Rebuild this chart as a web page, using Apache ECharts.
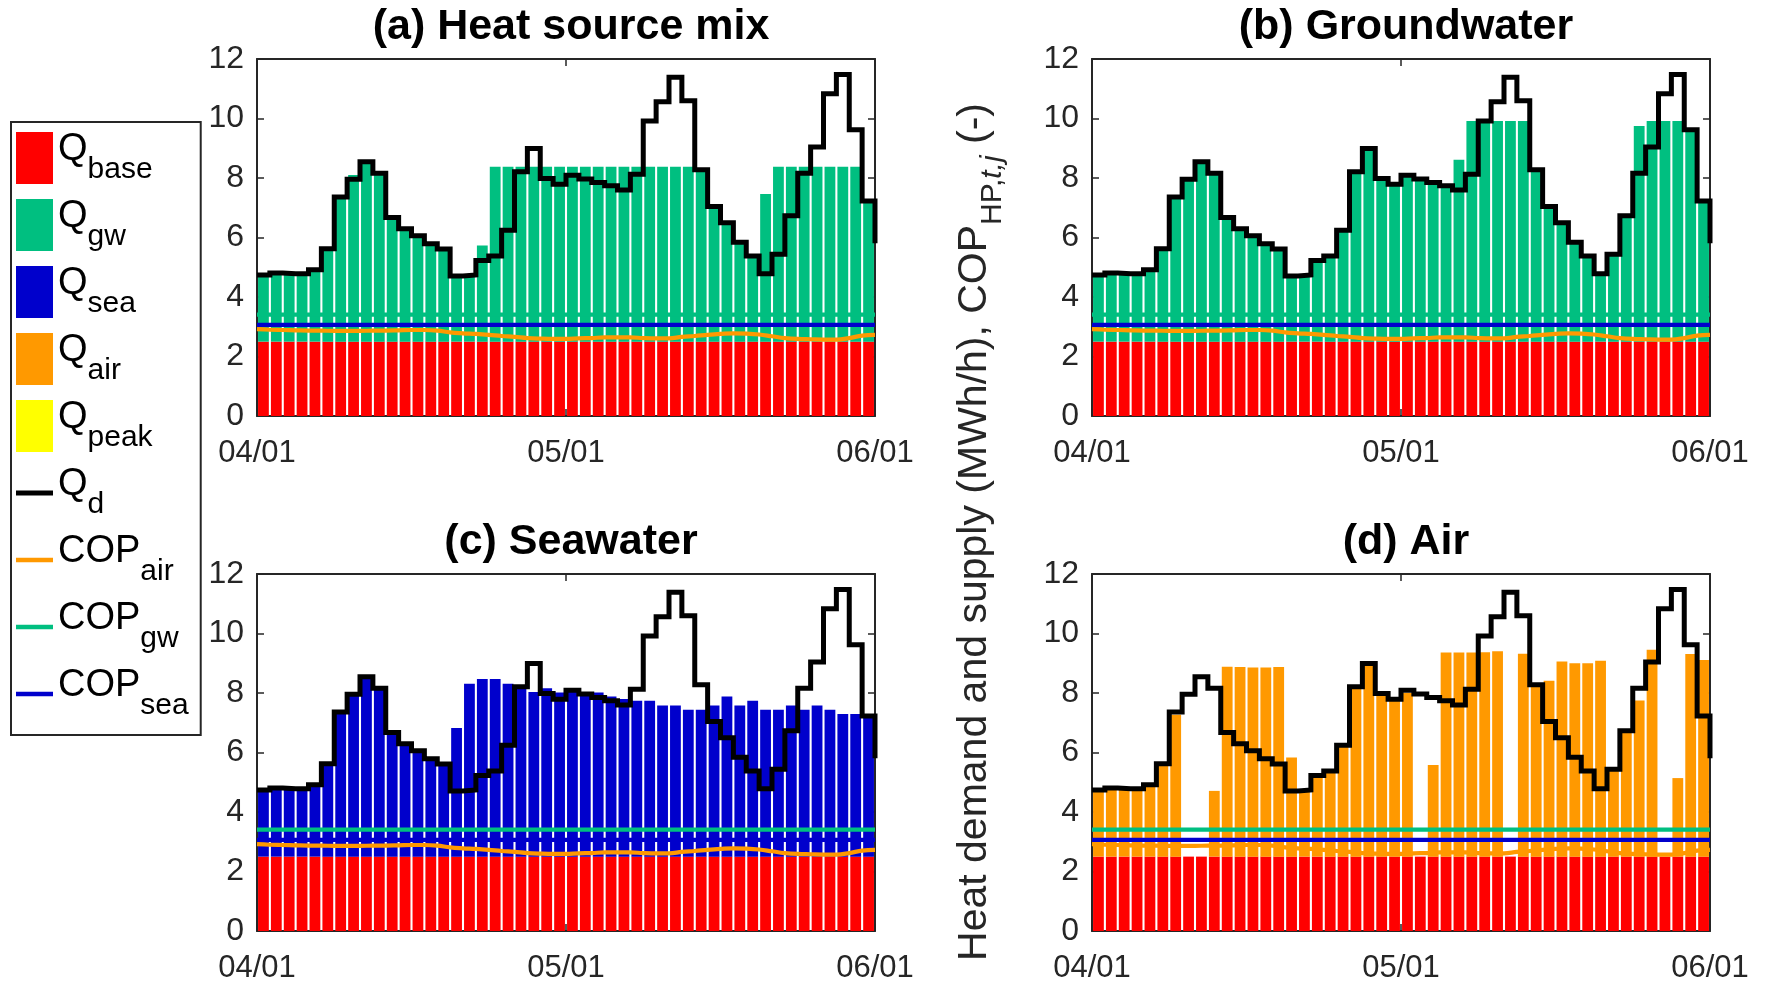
<!DOCTYPE html>
<html>
<head>
<meta charset="utf-8">
<script src="https://cdn.jsdelivr.net/npm/echarts@6/dist/echarts.min.js"></script>
<style>
  html, body { margin: 0; padding: 0; background: #fff; }
  #chart { width: 1771px; height: 988px; }
</style>
</head>
<body>
<div id="chart"></div>
<script>
// Time axis: 48 supply steps between 04/01 and 06/01
const dateTicks = ['04/01', '05/01', '06/01'];
const dateTickStep = 24;

// Heat demand Q_d (MWh/h), stairs: value i holds from step i to step i+1
const demand = [4.74, 4.81, 4.78, 4.78, 4.92, 5.62, 7.36, 7.96, 8.55, 8.16,
  6.67, 6.29, 6.06, 5.79, 5.61, 4.71, 4.74, 5.23, 5.38, 6.24,
  8.21, 8.99, 7.98, 7.79, 8.09, 7.97, 7.85, 7.74, 7.60, 8.13,
  9.92, 10.56, 11.39, 10.60, 8.28, 7.04, 6.50, 5.84, 5.38, 4.78,
  5.44, 6.73, 8.16, 9.04, 10.83, 11.48, 9.62, 7.23, 5.81];

// Base load supply Q_base (MWh/h)
const baseLoad = [2.5, 2.5, 2.5, 2.5, 2.5, 2.5, 2.5, 2.5, 2.5, 2.5, 2.5, 2.5,
  2.5, 2.5, 2.5, 2.5, 2.5, 2.5, 2.5, 2.5, 2.5, 2.5, 2.5, 2.5,
  2.5, 2.5, 2.5, 2.5, 2.5, 2.5, 2.5, 2.5, 2.5, 2.5, 2.5, 2.5,
  2.5, 2.5, 2.5, 2.5, 2.5, 2.5, 2.5, 2.5, 2.5, 2.5, 2.5, 2.5];

// (a) heat source mix: groundwater heat pump supply
const mixGw = [2.24, 2.31, 2.28, 2.28, 2.42, 3.12, 4.86, 5.60, 6.05, 5.66,
  4.17, 3.79, 3.56, 3.29, 3.11, 2.21, 2.24, 3.23, 5.88, 5.88,
  5.88, 5.88, 5.88, 5.88, 5.88, 5.88, 5.88, 5.88, 5.88, 5.88,
  5.88, 5.88, 5.88, 5.88, 5.78, 4.54, 4.00, 3.34, 2.88, 4.96,
  5.88, 5.88, 5.88, 5.88, 5.88, 5.88, 5.88, 4.73];

// (b) groundwater only
const onlyGw = [2.24, 2.31, 2.28, 2.28, 2.42, 3.12, 4.86, 5.46, 6.05, 5.66,
  4.17, 3.79, 3.56, 3.29, 3.11, 2.21, 2.24, 2.73, 2.88, 3.74,
  5.71, 6.49, 5.48, 5.29, 5.59, 5.47, 5.35, 5.24, 6.11, 7.42,
  7.42, 7.42, 7.42, 7.42, 5.78, 4.54, 4.00, 3.34, 2.88, 2.28,
  2.94, 4.23, 7.25, 7.42, 7.42, 7.42, 7.12, 4.73];

// (c) seawater only
const onlySea = [2.24, 2.31, 2.28, 2.28, 2.42, 3.12, 4.86, 5.46, 6.05, 5.66,
  4.17, 3.79, 3.56, 3.29, 3.11, 4.32, 5.81, 5.97, 5.97, 5.81,
  5.65, 5.53, 5.66, 5.52, 5.53, 5.50, 5.52, 5.38, 5.30, 5.24,
  5.24, 5.08, 5.08, 4.94, 4.94, 5.08, 5.38, 5.08, 5.24, 4.94,
  4.94, 5.08, 4.94, 5.08, 4.94, 4.79, 4.79, 4.70];

// (d) air only
const onlyAir = [2.24, 2.31, 2.28, 2.28, 2.42, 3.12, 4.77, 0, 0, 2.21,
  6.38, 6.37, 6.36, 6.36, 6.37, 3.33, 2.24, 2.73, 2.88, 3.74,
  5.71, 6.45, 5.48, 5.29, 5.50, 0, 3.08, 6.86, 6.86, 6.86,
  6.87, 6.90, 0, 6.82, 5.78, 5.91, 6.56, 6.50, 6.50, 6.58,
  2.94, 4.23, 5.25, 6.95, 0, 2.64, 6.81, 6.61];

// Peak boiler supply Q_peak
const peakLoad = [0, 0, 0, 0, 0, 0, 0, 0, 0, 0, 0, 0, 0, 0, 0, 0, 0, 0, 0, 0, 0, 0, 0, 0,
  0, 0, 0, 0, 0, 0, 0, 0, 0, 0, 0, 0, 0, 0, 0, 0, 0, 0, 0, 0, 0, 0, 0, 0];

// Heat pump COP per source (-)
const copAir = [2.92, 2.90, 2.89, 2.88, 2.87, 2.87, 2.86, 2.86, 2.86, 2.87,
  2.87, 2.88, 2.89, 2.89, 2.87, 2.81, 2.78, 2.76, 2.73, 2.69,
  2.66, 2.62, 2.60, 2.59, 2.59, 2.61, 2.62, 2.64, 2.64, 2.64,
  2.62, 2.61, 2.61, 2.66, 2.69, 2.73, 2.76, 2.78, 2.77, 2.74,
  2.68, 2.62, 2.59, 2.58, 2.57, 2.57, 2.62, 2.70, 2.73];
const copGw = [3.41, 3.41, 3.41, 3.41, 3.41, 3.41, 3.41, 3.41, 3.41, 3.41,
  3.41, 3.41, 3.41, 3.41, 3.41, 3.41, 3.41, 3.41, 3.41, 3.41,
  3.41, 3.41, 3.41, 3.41, 3.41, 3.41, 3.41, 3.41, 3.41, 3.41,
  3.41, 3.41, 3.41, 3.41, 3.41, 3.41, 3.41, 3.41, 3.41, 3.41,
  3.41, 3.41, 3.41, 3.41, 3.41, 3.41, 3.41, 3.41, 3.41];
const copSea = [3.06, 3.06, 3.06, 3.06, 3.06, 3.06, 3.06, 3.06, 3.06, 3.06,
  3.06, 3.06, 3.06, 3.06, 3.06, 3.06, 3.06, 3.06, 3.06, 3.06,
  3.06, 3.06, 3.06, 3.06, 3.06, 3.06, 3.06, 3.06, 3.06, 3.06,
  3.06, 3.06, 3.06, 3.06, 3.06, 3.06, 3.06, 3.06, 3.06, 3.06,
  3.06, 3.06, 3.06, 3.06, 3.06, 3.06, 3.06, 3.06, 3.06];

const yTicks = { min: 0, max: 12, interval: 2 };

const COLORS = {
  Q_base: '#ff0000', Q_gw: '#00bf80', Q_sea: '#0000cc', Q_air: '#ff9900',
  Q_peak: '#ffff00', Q_d: '#000000',
  COP_air: '#ff9900', COP_gw: '#00bf80', COP_sea: '#0000cc'
};
const AXIS = '#262626';
const FONT = 'Liberation Sans, Arial, Helvetica, sans-serif';

const panels = [
  { title: '(a) Heat source mix', source: 'Q_gw', values: mixGw, grid: { left: 257, top: 59 } },
  { title: '(b) Groundwater', source: 'Q_gw', values: onlyGw, grid: { left: 1092, top: 59 } },
  { title: '(c) Seawater', source: 'Q_sea', values: onlySea, grid: { left: 257, top: 574 } },
  { title: '(d) Air', source: 'Q_air', values: onlyAir, grid: { left: 1092, top: 574 } }
];
const PLOT_W = 618, PLOT_H = 357;

// supply steps as categories for the stacked bars; line points sit on step edges
const steps = baseLoad.map((v, i) => 'step' + i);
const edgePoints = arr => arr.map((v, i) => [i, v]);

const grids = [], xAxes = [], yAxes = [], series = [], titles = [];

panels.forEach((p, k) => {
  grids.push({ left: p.grid.left, top: p.grid.top, width: PLOT_W, height: PLOT_H,
    containLabel: false, outerBoundsMode: 'none' });
  titles.push({
    text: p.title, left: p.grid.left + PLOT_W / 2, top: p.grid.top - 58, textAlign: 'center',
    textStyle: { fontFamily: FONT, fontSize: 43, fontWeight: 'bold', color: '#000' }
  });
  const n = steps.length;
  const tickLine = { show: true, inside: true, length: 7, lineStyle: { color: AXIS, width: 1.5 } };
  const axisLine = { show: true, onZero: false, lineStyle: { color: AXIS, width: 2 } };
  // 3k: date axis with labels, 3k+1: mirrored top axis, 3k+2: step categories for the bars
  xAxes.push({
    gridIndex: k, type: 'value', position: 'bottom', min: 0, max: n, interval: dateTickStep,
    axisLine, axisTick: tickLine, splitLine: { show: false },
    axisLabel: { margin: 22, fontFamily: FONT, fontSize: 31, color: AXIS,
      formatter: v => dateTicks[Math.round(v / dateTickStep)] }
  });
  xAxes.push({
    gridIndex: k, type: 'value', position: 'top', min: 0, max: n, interval: dateTickStep,
    axisLine, axisTick: tickLine, splitLine: { show: false }, axisLabel: { show: false }
  });
  xAxes.push({
    gridIndex: k, type: 'category', data: steps, boundaryGap: true, show: false
  });
  yAxes.push({
    gridIndex: k, type: 'value', position: 'left', min: yTicks.min, max: yTicks.max, interval: yTicks.interval,
    axisLine, axisTick: tickLine, splitLine: { show: false },
    axisLabel: { margin: 13, fontFamily: FONT, fontSize: 32, color: AXIS }
  });
  yAxes.push({
    gridIndex: k, type: 'value', position: 'right', min: yTicks.min, max: yTicks.max, interval: yTicks.interval,
    axisLine, axisTick: tickLine, splitLine: { show: false }, axisLabel: { show: false }
  });

  const barCommon = { type: 'bar', stack: 'supply' + k, barWidth: 10.8, z: 2,
    xAxisIndex: 3 * k + 2, yAxisIndex: 2 * k };
  series.push(Object.assign({}, barCommon, { name: 'Q_base', data: baseLoad,
    itemStyle: { color: COLORS.Q_base } }));
  series.push(Object.assign({}, barCommon, { name: p.source, data: p.values,
    itemStyle: { color: COLORS[p.source] } }));
  series.push(Object.assign({}, barCommon, { name: 'Q_peak', data: peakLoad,
    itemStyle: { color: COLORS.Q_peak } }));

  const lineCommon = { type: 'line', symbol: 'none', z: 3, xAxisIndex: 3 * k, yAxisIndex: 2 * k };
  series.push(Object.assign({}, lineCommon, { name: 'COP_air', data: edgePoints(copAir), smooth: 0.4,
    lineStyle: { color: COLORS.COP_air, width: 4.2 }, itemStyle: { color: COLORS.COP_air } }));
  series.push(Object.assign({}, lineCommon, { name: 'COP_gw', data: edgePoints(copGw),
    lineStyle: { color: COLORS.COP_gw, width: 4.2 }, itemStyle: { color: COLORS.COP_gw } }));
  series.push(Object.assign({}, lineCommon, { name: 'COP_sea', data: edgePoints(copSea),
    lineStyle: { color: COLORS.COP_sea, width: 4.2 }, itemStyle: { color: COLORS.COP_sea } }));
  series.push(Object.assign({}, lineCommon, { name: 'Q_d', data: edgePoints(demand), step: 'end', z: 4,
    lineStyle: { color: COLORS.Q_d, width: 5, join: 'miter', cap: 'butt' }, itemStyle: { color: COLORS.Q_d } }));
});

// legend labels with subscripts
const legendText = {
  Q_base: ['Q', 'base'], Q_gw: ['Q', 'gw'], Q_sea: ['Q', 'sea'], Q_air: ['Q', 'air'],
  Q_peak: ['Q', 'peak'], Q_d: ['Q', 'd'],
  COP_air: ['COP', 'air'], COP_gw: ['COP', 'gw'], COP_sea: ['COP', 'sea']
};
const legendOrder = ['Q_base', 'Q_gw', 'Q_sea', 'Q_air', 'Q_peak', 'Q_d', 'COP_air', 'COP_gw', 'COP_sea'];
const lineIcon = w => 'path://M0,0H37V' + w + 'H0Z';

const option = {
  animation: false,
  backgroundColor: '#ffffff',
  title: titles,
  grid: grids,
  xAxis: xAxes,
  yAxis: yAxes,
  legend: {
    orient: 'vertical', left: 11, top: 122,
    padding: [9, 12, 14, 5],
    itemWidth: 37, itemHeight: 52, itemGap: 13,
    symbolKeepAspect: true,
    borderColor: AXIS, borderWidth: 2, backgroundColor: '#fff',
    selectedMode: false,
    data: legendOrder.map(name => {
      if (name === 'Q_d') return { name, icon: lineIcon(5) };
      if (name.startsWith('COP')) return { name, icon: lineIcon(4.5) };
      return { name, icon: 'rect' };
    }),
    formatter: name => '{m|' + legendText[name][0] + '}{s|' + legendText[name][1] + '}',
    textStyle: {
      fontFamily: FONT, color: '#000',
      rich: {
        m: { fontFamily: FONT, fontSize: 38, lineHeight: 38, padding: [0, 0, 16, 0], color: '#000' },
        s: { fontFamily: FONT, fontSize: 30, lineHeight: 30, padding: [24, 0, 0, 0], color: '#000' }
      }
    }
  },
  graphic: [{
    type: 'text', x: 981, y: 532, rotation: Math.PI / 2,
    style: {
      text: '{n|Heat demand and supply (MWh/h), COP}{s|HP,}{si|t,j}{n| (-)}',
      align: 'center', verticalAlign: 'middle',
      rich: {
        n: { fontFamily: FONT, fontSize: 41, lineHeight: 41, padding: [0, 0, 13, 0], fill: AXIS, color: AXIS },
        s: { fontFamily: FONT, fontSize: 30, lineHeight: 30, padding: [24, 0, 0, 0], fill: AXIS, color: AXIS },
        si: { fontFamily: FONT, fontSize: 30, fontStyle: 'italic', lineHeight: 30, padding: [24, 0, 0, 0], fill: AXIS, color: AXIS }
      }
    }
  }],
  series
};

const chart = echarts.init(document.getElementById('chart'), null, { renderer: 'canvas' });
chart.setOption(option);
</script>
</body>
</html>
